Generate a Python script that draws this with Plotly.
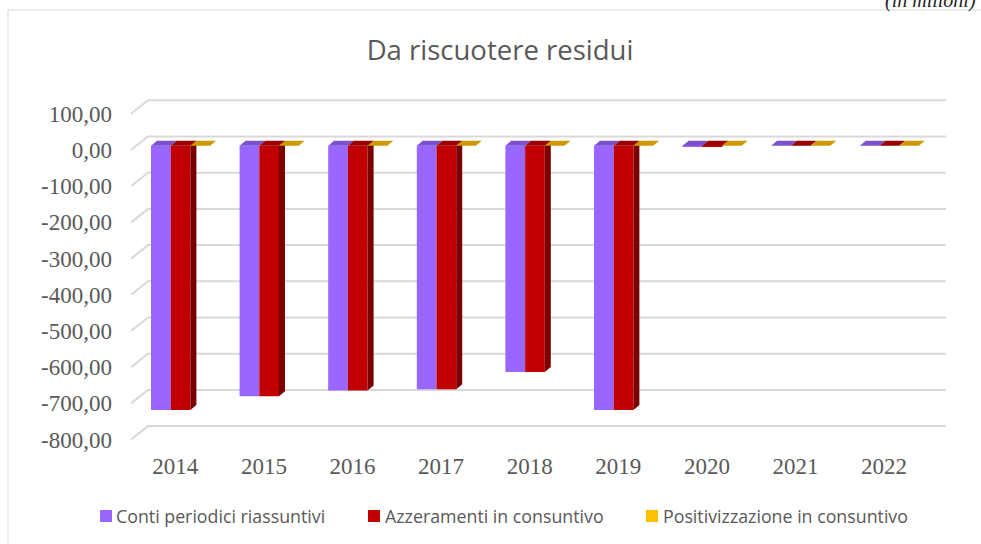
import plotly.graph_objects as go

years = ["2014", "2015", "2016", "2017", "2018", "2019", "2020", "2021", "2022"]
series_names = ["Conti periodici riassuntivi", "Azzeramenti in consuntivo", "Positivizzazione in consuntivo"]
conti = [-730, -692, -676, -673, -625, -730, -2, 0, 0]
azzeramenti = [-730, -692, -676, -673, -625, -730, -3, 0, 0]
positivizzazione = [0, 0, 0, 0, 0, 0, 0, 0, 0]
y_ticks = [100, 0, -100, -200, -300, -400, -500, -600, -700, -800]
y_labels = ["100,00", "0,00", "-100,00", "-200,00", "-300,00", "-400,00", "-500,00", "-600,00", "-700,00", "-800,00"]
legend_marker_px = [100, 368, 646]
legend_text_px = [115, 384, 662]

front_colors = ["#9966FF", "#C00000", "#FFC000"]
top_colors = ["#7A52CC", "#9A0000", "#CC9A00"]
side_color = "#7B0000"
grid_color = "#D9D9D9"
text_color = "#595959"
serif = '"Liberation Serif", "Times New Roman", serif'

W, H = 981, 544
L, R, T, B = 131, 946, 99, 440
CAT = 88.6
PX_PER_UNIT = 0.362
x_range = [-0.5, -0.5 + (R - L) / CAT]
y_range = [(150 - B) / PX_PER_UNIT, (150 - T) / PX_PER_UNIT]
y2_range = [(145.7 - B) / PX_PER_UNIT, (145.7 - T) / PX_PER_UNIT]

bar_w = 19.7 / CAT
first_x = (151 - 131) / CAT - 0.5
dx_bar, dy_bar = 6 / CAT, 5 / PX_PER_UNIT
dx_wall, dy_wall = 17 / CAT, 13.5 / PX_PER_UNIT


def px_x(p):
    return (p - L) / (R - L)


def px_y(p):
    return (B - p) / (B - T)


fig = go.Figure()

for v in y_ticks:
    fig.add_trace(go.Scatter(
        x=[x_range[0], x_range[0] + dx_wall, x_range[1]],
        y=[v, v + dy_wall, v + dy_wall],
        mode="lines", line=dict(color=grid_color, width=2),
        showlegend=False, hoverinfo="skip", xaxis="x", yaxis="y",
    ))

all_values = [conti, azzeramenti, positivizzazione]
for s, vals in enumerate(all_values):
    xs = [i + first_x + bar_w * (s + 0.5) for i in range(len(years))]
    fig.add_trace(go.Bar(
        x=xs, y=vals, width=bar_w, name=series_names[s],
        marker=dict(color=front_colors[s], line=dict(width=0)),
        showlegend=False, xaxis="x", yaxis="y2",
    ))

for s, vals in enumerate(all_values):
    for i, v in enumerate(vals):
        x0 = i + first_x + bar_w * s
        x1 = x0 + bar_w
        if s == 1:
            fig.add_trace(go.Scatter(
                x=[x1, x1 + dx_bar, x1 + dx_bar, x1, x1],
                y=[0, dy_bar, v + dy_bar, v, 0],
                mode="lines", fill="toself", fillcolor=side_color,
                line=dict(width=0, color=side_color),
                showlegend=False, hoverinfo="skip", xaxis="x", yaxis="y2",
            ))
        fig.add_trace(go.Scatter(
            x=[x0, x1, x1 + dx_bar, x0 + dx_bar, x0],
            y=[0, 0, dy_bar, dy_bar, 0],
            mode="lines", fill="toself", fillcolor=top_colors[s],
            line=dict(width=0, color=top_colors[s]),
            showlegend=False, hoverinfo="skip", xaxis="x", yaxis="y2",
        ))

shapes = [
    dict(type="line", xref="paper", yref="paper", x0=px_x(8), x1=px_x(981),
         y0=px_y(10), y1=px_y(10), line=dict(color=grid_color, width=1)),
    dict(type="line", xref="paper", yref="paper", x0=px_x(8), x1=px_x(8),
         y0=px_y(10), y1=px_y(544), line=dict(color=grid_color, width=1)),
]
annotations = [dict(text="<i>(in milioni)</i>", xref="paper", yref="paper",
                    x=px_x(978), xanchor="right", y=px_y(14), yanchor="bottom",
                    showarrow=False,
                    font=dict(family=serif, size=20, color="#222222"))]
for s, name in enumerate(series_names):
    mx = legend_marker_px[s]
    shapes.append(dict(type="rect", xref="paper", yref="paper", x0=px_x(mx), x1=px_x(mx + 12),
                       y0=px_y(510), y1=px_y(522), fillcolor=front_colors[s], line=dict(width=0)))
    annotations.append(dict(text=name, xref="paper", yref="paper",
                            x=px_x(legend_text_px[s] - 1), xanchor="left", y=px_y(516), yanchor="middle",
                            showarrow=False,
                            font=dict(family="Open Sans", size=17.8, color=text_color)))

fig.update_layout(
    width=W, height=H, autosize=False,
    margin=dict(l=L, r=W - R, t=T, b=H - B),
    paper_bgcolor="white", plot_bgcolor="white",
    font=dict(family=serif, color=text_color),
    barmode="overlay", showlegend=False,
    title=dict(text="Da riscuotere residui", x=500 / W, xanchor="center",
               y=1 - 50 / H, yanchor="middle",
               font=dict(family="Open Sans", size=27.5, color=text_color)),
    xaxis=dict(range=x_range, tickmode="array", tickvals=list(range(len(years))), ticktext=years,
               showgrid=False, zeroline=False, showline=False, ticks="", automargin=False,
               ticklabelstandoff=10,
               tickfont=dict(family=serif, size=23, color=text_color)),
    yaxis=dict(range=y_range, tickmode="array", tickvals=y_ticks, ticktext=y_labels,
               showgrid=False, zeroline=False, showline=False, ticks="", automargin=False,
               ticklabelstandoff=18,
               tickfont=dict(family=serif, size=23, color=text_color)),
    yaxis2=dict(range=y2_range, overlaying="y", side="left", visible=False, automargin=False),
    shapes=shapes,
    annotations=annotations,
)

fig.write_html("out.html", config=dict(displayModeBar=False),
               post_script="document.body.style.margin='0';")
